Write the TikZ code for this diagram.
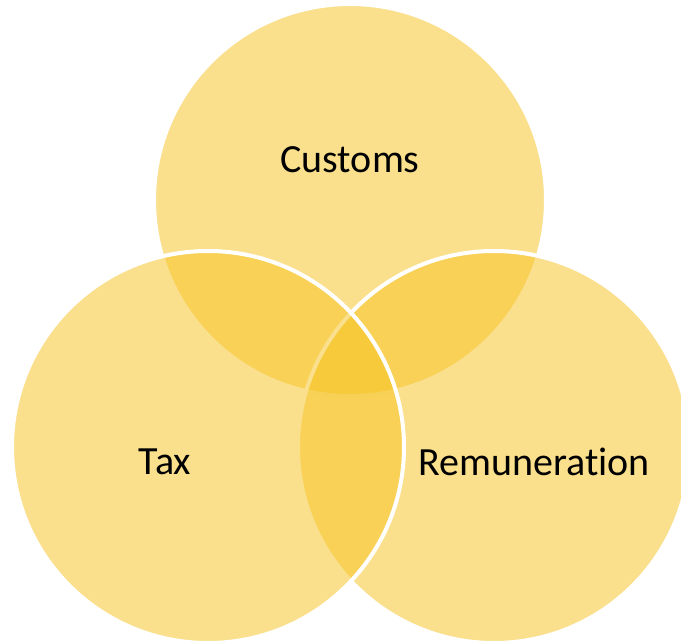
\documentclass[tikz,border=0pt]{standalone}
\usepackage{fontspec}
\setmainfont[Ligatures=CommonOff]{Carlito}
\definecolor{venngold}{RGB}{246,196,36}
\begin{document}
\begin{tikzpicture}[x=1pt,y=-1pt,
  venn/.style={circle, minimum size=392pt, inner sep=0pt, fill=venngold, fill opacity=0.52, draw=white, line width=4pt},
  lbl/.style={font=\fontsize{40}{48}\selectfont, text=black}]
\useasboundingbox (0,0) rectangle (681,644);
\node[venn] (top) at (350,200) {};
\node[venn] (right) at (494,447) {};
\node[venn] (left) at (208,447) {};
\node[lbl] (customs) at (350,160) {Customs};
\node[lbl] (tax) at (165,462) {Tax};
\node[lbl] (remun) at (534,462) {Remuneration};
\end{tikzpicture}
\end{document}
